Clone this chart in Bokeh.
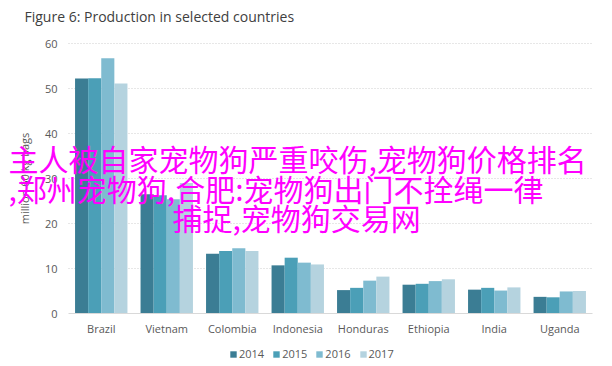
from bokeh.plotting import figure
from bokeh.models import (ColumnDataSource, Range1d, Legend, LegendItem, Label, FixedTicker,
                          LinearAxis, Grid)
from bokeh.embed import file_html
from bokeh.resources import INLINE

countries = ["Brazil", "Vietnam", "Colombia", "Indonesia", "Honduras", "Ethiopia", "India", "Uganda"]
years = ["2014", "2015", "2016", "2017"]
v2014 = [52.2, 26.5, 13.3, 10.7, 5.2, 6.4, 5.3, 3.7]
v2015 = [52.3, 26.3, 13.9, 12.4, 5.7, 6.6, 5.7, 3.6]
v2016 = [56.7, 25.4, 14.5, 11.3, 7.3, 7.2, 5.1, 4.9]
v2017 = [51.1, 29.0, 13.9, 10.9, 8.2, 7.6, 5.8, 5.0]
y_ticks = [0, 10, 20, 30, 40, 50, 60]
colors = ["#3b7d94", "#4b9fb7", "#7fbbd0", "#b5d3df"]

title_text = "Figure 6: Production in selected countries"
y_label = "million 60 kg bags"
overlay_lines = ["主人被自家宠物狗严重咬伤,宠物狗价格排名",
                 ",郑州宠物狗,合肥:宠物狗出门不拴绳一律",
                 "捕捉,宠物狗交易网"]

# layout (pixels on the canvas)
W, H = 600, 362
plot_left, plot_right, plot_top, plot_bottom = 68, 592, 43, 313
n = len(countries)
y_max = y_ticks[-1]
px_per_cat = (plot_right - plot_left) / n
px_per_unit = (plot_bottom - plot_top) / y_max

x_range = Range1d(-plot_left / px_per_cat, n + (W - plot_right) / px_per_cat)
y_range = Range1d(-(H - plot_bottom) / px_per_unit, y_max + plot_top / px_per_unit)

p = figure(width=W, height=H, x_range=x_range, y_range=y_range,
           output_backend="svg", toolbar_location=None, x_axis_type=None, y_axis_type=None,
           min_border=0, min_border_left=0, min_border_right=0, min_border_top=0, min_border_bottom=0)
p.outline_line_color = None
p.background_fill_color = "white"
p.border_fill_color = "white"
p.title.visible = False
p.grid.visible = False

centers = [i + 0.5 for i in range(n)]
offsets = [-0.3, -0.1, 0.1, 0.3]
series = [v2014, v2015, v2016, v2017]

# gridlines
ygrid = Grid(dimension=1, ticker=FixedTicker(ticks=y_ticks[1:]),
             grid_line_color="#cfcfcf", grid_line_dash="1 2", grid_line_width=1)
if "cross_bounds" in Grid.properties():
    ygrid.cross_bounds = (0, n)
p.add_layout(ygrid)

renderers = []
for yr, off, c, vals in zip(years, offsets, colors, series):
    src = ColumnDataSource(dict(x=[cx + off for cx in centers], top=vals))
    r = p.vbar(x="x", top="top", width=0.2, source=src, fill_color=c, line_color=None)
    renderers.append(r)

yaxis = LinearAxis(fixed_location=0, bounds=(0, y_max), ticker=FixedTicker(ticks=y_ticks),
                   axis_line_color=None, major_tick_line_color=None, minor_tick_line_color=None,
                   major_tick_out=0, minor_tick_out=0,
                   major_label_text_font="Open Sans", major_label_text_font_size="11px",
                   major_label_text_color="#595959", major_label_standoff=11,
                   axis_label=y_label, axis_label_text_font="Open Sans",
                   axis_label_text_font_size="11px", axis_label_text_font_style="normal",
                   axis_label_text_color="#595959", axis_label_standoff=10)
p.add_layout(yaxis, "left")

xaxis = LinearAxis(fixed_location=0, bounds=(0, n), ticker=FixedTicker(ticks=centers),
                   major_label_overrides={cx: name for cx, name in zip(centers, countries)},
                   axis_line_color="#d9d9d9", major_tick_line_color=None, minor_tick_line_color=None,
                   major_tick_out=0, minor_tick_out=0,
                   major_label_text_font="Open Sans", major_label_text_font_size="11px",
                   major_label_text_color="#595959", major_label_standoff=7)
p.add_layout(xaxis, "below")

legend = Legend(items=[LegendItem(label=yr, renderers=[r]) for yr, r in zip(years, renderers)],
                orientation="horizontal", location=(229, 1),
                label_text_font="Open Sans", label_text_font_size="11px", label_text_color="#595959",
                glyph_width=8, glyph_height=8, label_standoff=2, spacing=8, label_height=12,
                padding=0, margin=0, border_line_color=None, background_fill_alpha=0)
p.add_layout(legend, "center")

p.add_layout(Label(x=24, y=16, x_units="canvas", y_units="canvas", text=title_text,
                   text_font="Open Sans", text_font_size="14px", text_color="#404040",
                   text_baseline="middle"))

ys = [157, 187, 216]
xs = [8, 8, 172]
for t, x, y in zip(overlay_lines, xs, ys):
    p.add_layout(Label(x=x, y=y, x_units="canvas", y_units="canvas", text=t,
                       text_font="Noto Sans CJK SC", text_font_size="30px",
                       text_color="#ff00ff", text_baseline="middle"))

open("out.html", "w").write(file_html(p, INLINE))
